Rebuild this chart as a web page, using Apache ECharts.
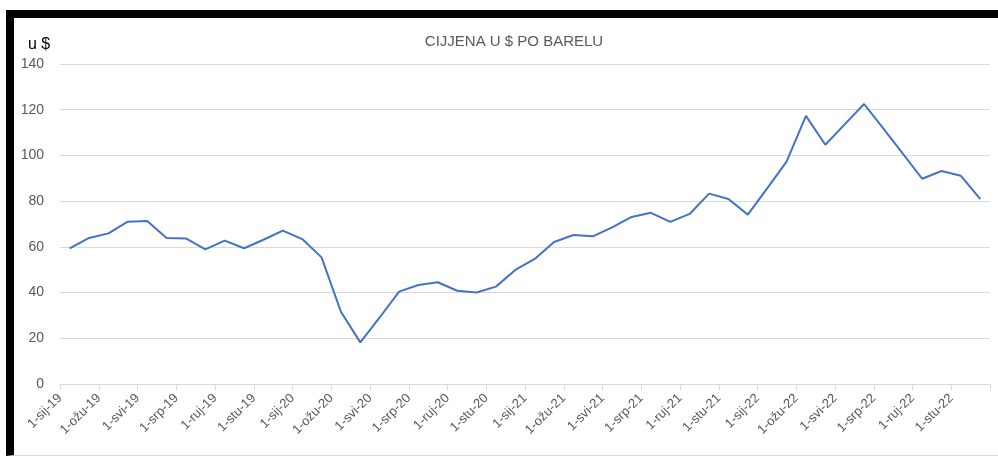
<!DOCTYPE html>
<html>
<head>
<meta charset="utf-8">
<script src="https://cdn.jsdelivr.net/npm/echarts@6/dist/echarts.min.js"></script>
<style>
html,body{margin:0;padding:0;background:#fff;}
#wrap{position:relative;width:998px;height:456px;overflow:hidden;}
#chart{position:absolute;left:0;top:0;width:998px;height:456px;}
#frame{position:absolute;left:6px;top:10px;right:0;bottom:0;box-sizing:border-box;
  border-top:8px solid #000;border-left:8px solid #000;border-bottom:1px solid #d9d9d9;pointer-events:none;}
</style>
</head>
<body>
<div id="wrap"><div id="chart"></div><div id="frame"></div></div>
<script>
const months = [
 '1-sij-19','1-velj-19','1-ožu-19','1-tra-19','1-svi-19','1-lip-19','1-srp-19','1-kol-19','1-ruj-19','1-lis-19','1-stu-19','1-pro-19',
 '1-sij-20','1-velj-20','1-ožu-20','1-tra-20','1-svi-20','1-lip-20','1-srp-20','1-kol-20','1-ruj-20','1-lis-20','1-stu-20','1-pro-20',
 '1-sij-21','1-velj-21','1-ožu-21','1-tra-21','1-svi-21','1-lip-21','1-srp-21','1-kol-21','1-ruj-21','1-lis-21','1-stu-21','1-pro-21',
 '1-sij-22','1-velj-22','1-ožu-22','1-tra-22','1-svi-22','1-lip-22','1-srp-22','1-kol-22','1-ruj-22','1-lis-22','1-stu-22','1-pro-22'
];
const prices = [
 59.3, 63.9, 65.9, 71.0, 71.3, 63.9, 63.7, 58.9, 62.7, 59.4, 63.1, 67.1,
 63.4, 55.4, 31.6, 18.2, 29.1, 40.4, 43.3, 44.5, 40.8, 40.0, 42.6, 49.9,
 54.7, 62.1, 65.2, 64.6, 68.5, 73.1, 74.9, 70.9, 74.4, 83.3, 80.9, 74.1,
 85.6, 97.3, 117.3, 104.7, 113.6, 122.5, 111.7, 100.8, 89.8, 93.2, 91.1, 80.9
];
// tick labels at month boundaries (every other shown)
const tickLabels = months.concat(['']);
const titleText = 'CIJJENA U $ PO BARELU';
const unitText = 'u $';

const chart = echarts.init(document.getElementById('chart'), null, {renderer:'canvas'});
chart.setOption({
  animation:false,
  backgroundColor:'#fff',
  textStyle:{fontFamily:'Liberation Sans'},
  title:[
    {text:titleText,left:509,top:29,textAlign:'center',
     textStyle:{fontSize:15,fontWeight:'normal',color:'#595959',fontFamily:'Liberation Sans'}},
    {text:unitText,left:23,top:32,
     textStyle:{fontSize:16,fontWeight:'normal',color:'#000',fontFamily:'Liberation Sans'}}
  ],
  grid:{left:60,right:8,top:64,bottom:72,containLabel:false},
  xAxis:[
    {type:'category',data:months,boundaryGap:true,position:'bottom',
     axisLine:{show:true,lineStyle:{color:'#d9d9d9',width:1}},
     axisTick:{show:true,interval:1,length:6,lineStyle:{color:'#d9d9d9'}},
     axisLabel:{show:false},splitLine:{show:false}},
    {type:'category',data:tickLabels,boundaryGap:false,position:'bottom',
     axisLine:{show:false},axisTick:{show:false},splitLine:{show:false},
     axisLabel:{show:true,interval:1,rotate:45,margin:12,fontSize:13,color:'#595959',fontFamily:'Liberation Sans'}}
  ],
  yAxis:{type:'value',min:0,max:140,interval:20,
    axisLine:{show:false},axisTick:{show:false},
    axisLabel:{margin:16,fontSize:14,color:'#595959',fontFamily:'Liberation Sans'},
    splitLine:{show:true,lineStyle:{color:'#d9d9d9',width:1}}},
  series:[{type:'line',xAxisIndex:0,data:prices,symbol:'none',
    lineStyle:{color:'#4472c4',width:2},itemStyle:{color:'#4472c4'}}]
});
</script>
</body>
</html>
